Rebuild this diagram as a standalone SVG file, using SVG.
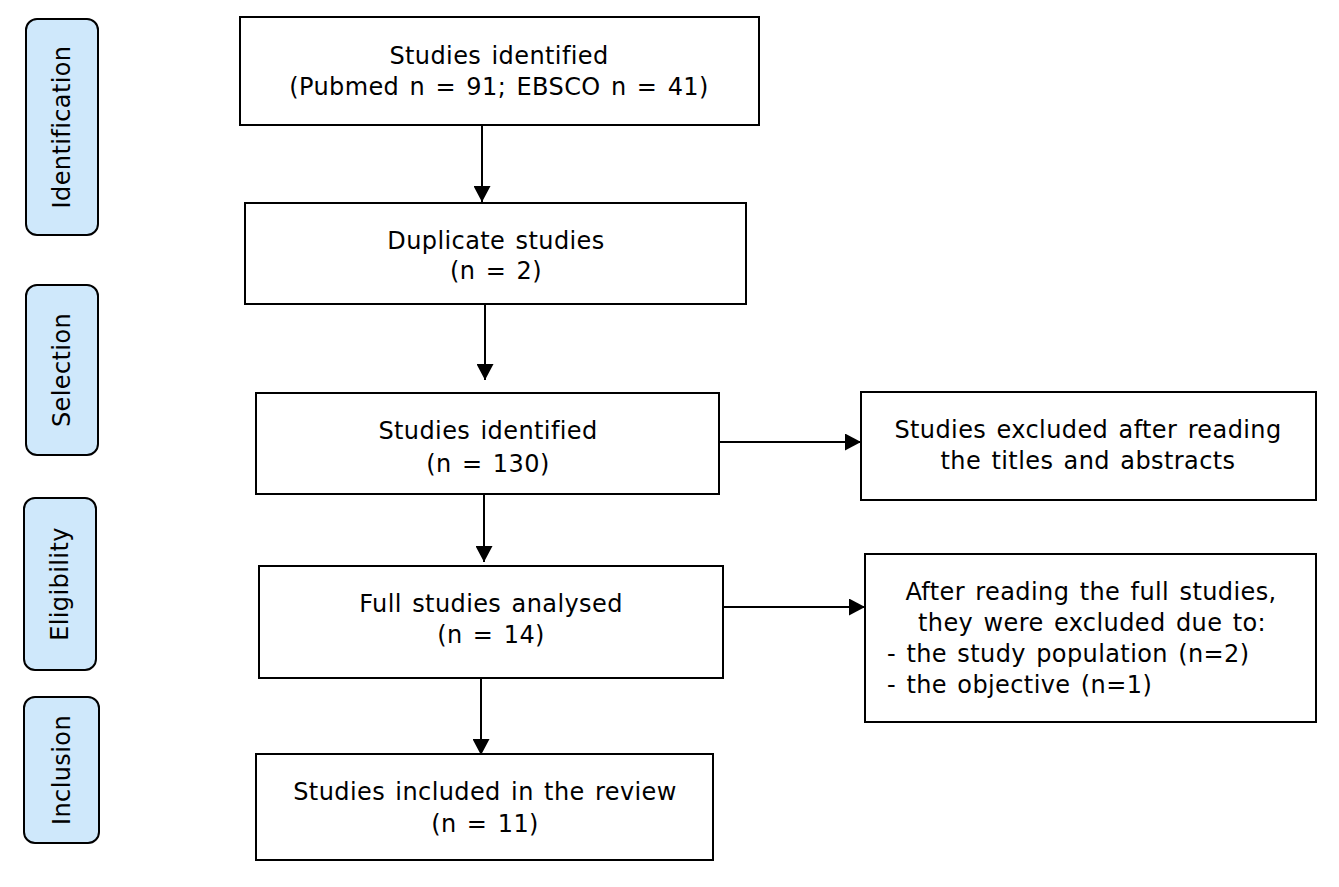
<svg xmlns="http://www.w3.org/2000/svg" width="1339" height="887" viewBox="0 0 1339 887">
<style>
.box{fill:#fff;stroke:#000;stroke-width:2}
.side{fill:#cfe8fb;stroke:#000;stroke-width:2}
text{font-family:"DejaVu Sans",Verdana,sans-serif;font-size:24px;letter-spacing:0.4px;word-spacing:2.3px;fill:#000}
.c{text-anchor:middle}
.con{stroke:#000;stroke-width:2;fill:none;marker-end:url(#ah)}
</style>
<defs>
<marker id="ah" markerWidth="16" markerHeight="17" refX="16" refY="8.5" orient="auto" markerUnits="userSpaceOnUse">
<path d="M0,0 L16,8.5 L0,17 Z" fill="#000"/>
</marker>
</defs>
<rect width="1339" height="887" fill="#fff"/>
<g id="side-identification"><rect class="side" x="26" y="19" width="72" height="216" rx="11"/><text class="c" transform="translate(70,127) rotate(-90)">Identification</text></g>
<g id="side-selection"><rect class="side" x="26" y="285" width="72" height="170" rx="11"/><text class="c" transform="translate(70,370) rotate(-90)">Selection</text></g>
<g id="side-eligibility"><rect class="side" x="24" y="498" width="72" height="172" rx="11"/><text class="c" transform="translate(68,584) rotate(-90)">Eligibility</text></g>
<g id="side-inclusion"><rect class="side" x="24" y="697" width="75" height="146" rx="11"/><text class="c" transform="translate(70,770) rotate(-90)">Inclusion</text></g>

<g id="n1"><rect class="box" x="240" y="17" width="519" height="108"/><text class="c" x="499" y="64">Studies identified</text><text class="c" x="499" y="95">(Pubmed n = 91; EBSCO n = 41)</text></g>
<g id="n2"><rect class="box" x="245" y="203" width="501" height="101"/><text class="c" x="496" y="249">Duplicate studies</text><text class="c" x="496" y="279">(n = 2)</text></g>
<g id="n3"><rect class="box" x="256" y="393" width="463" height="101"/><text class="c" x="488" y="439">Studies identified</text><text class="c" x="488" y="472">(n = 130)</text></g>
<g id="n4"><rect class="box" x="259" y="566" width="464" height="112"/><text class="c" x="491" y="612">Full studies analysed</text><text class="c" x="491" y="643">(n = 14)</text></g>
<g id="n5"><rect class="box" x="256" y="754" width="457" height="106"/><text class="c" x="485" y="800">Studies included in the review</text><text class="c" x="485" y="832">(n = 11)</text></g>
<g id="r1"><rect class="box" x="861" y="392" width="455" height="108"/><text class="c" x="1088" y="438">Studies excluded after reading</text><text class="c" x="1088" y="469">the titles and abstracts</text></g>
<g id="r2"><rect class="box" x="865" y="554" width="451" height="168"/><text class="c" x="1091" y="600">After reading the full studies,</text><text class="c" x="1092" y="631">they were excluded due to:</text><text x="887" y="662">- the study population (n=2)</text><text x="887" y="693">- the objective (n=1)</text></g>

<g id="connectors">
<line class="con" x1="482" y1="125" x2="482" y2="202"/>
<line class="con" x1="485" y1="304" x2="485" y2="380"/>
<line class="con" x1="484" y1="494" x2="484" y2="562"/>
<line class="con" x1="481" y1="678" x2="481" y2="755"/>
<line class="con" x1="719" y1="442" x2="861" y2="442"/>
<line class="con" x1="723" y1="607" x2="865" y2="607"/>
</g>
</svg>
